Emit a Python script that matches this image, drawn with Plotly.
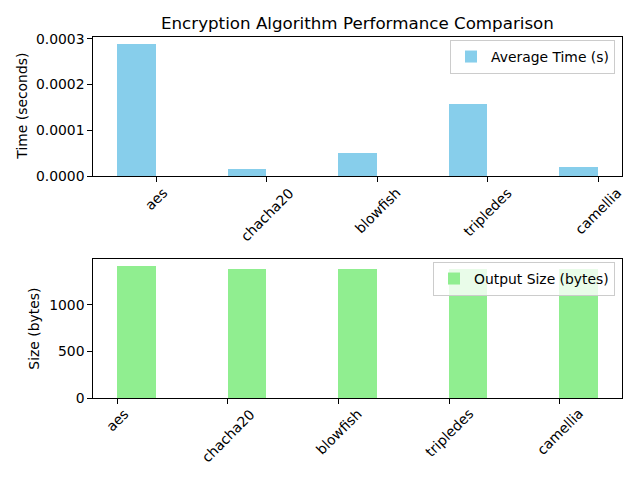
import plotly.graph_objects as go

algorithms = ["aes", "chacha20", "blowfish", "tripledes", "camellia"]
avg_time = [0.000289, 0.0000153, 0.0000504, 0.0001577, 0.0000197]
output_size = [1419, 1387, 1387, 1387, 1387]
time_ticks = [0, 0.0001, 0.0002, 0.0003]
size_ticks = [0, 500, 1000]

W, H = 640, 480
bar_w = 0.35
xpos = list(range(len(algorithms)))
span = len(algorithms) - 1 + bar_w
xr = [-bar_w / 2 - 0.05 * span, len(algorithms) - 1 + bar_w / 2 + 0.05 * span]

top_ticks = [i + bar_w / 2 for i in xpos]
bot_ticks = [i - bar_w / 2 for i in xpos]

xdom = [93.3 / W, 622.3 / W]
ydom1 = [1 - 176 / H, 1 - 37.3 / H]
ydom2 = [1 - 398 / H, 1 - 259.3 / H]

font = dict(family="DejaVu Sans", size=13.9, color="black")

fig = go.Figure()
fig.add_trace(go.Bar(x=xpos, y=avg_time, width=bar_w, marker=dict(color="skyblue", line=dict(width=0)),
                     name="Average Time (s)", xaxis="x", yaxis="y", legend="legend"))
fig.add_trace(go.Bar(x=xpos, y=output_size, width=bar_w, marker=dict(color="lightgreen", line=dict(width=0)),
                     name="Output Size (bytes)", xaxis="x2", yaxis="y2", legend="legend2"))

axis_common = dict(showline=True, mirror=True, linecolor="black", linewidth=1, ticks="outside",
                   ticklen=5, tickwidth=1, tickcolor="black", showgrid=False, zeroline=False,
                   tickfont=font, automargin=False)

legend_font = dict(family="DejaVu Sans", size=13.9, color="black")

fig.update_layout(
    template="none",
    width=W, height=H, margin=dict(l=0, r=0, t=0, b=0, pad=0, autoexpand=False),
    paper_bgcolor="white", plot_bgcolor="white", font=font, bargap=0,
    xaxis=dict(domain=xdom, anchor="y", range=xr, tickvals=top_ticks, showticklabels=False, **axis_common),
    yaxis=dict(domain=ydom1, anchor="x", range=[0, max(avg_time) * 1.05], tickvals=time_ticks,
               tickformat=".4f", **axis_common),
    xaxis2=dict(domain=xdom, anchor="y2", range=xr, tickvals=bot_ticks, showticklabels=False, **axis_common),
    yaxis2=dict(domain=ydom2, anchor="x2", range=[0, max(output_size) * 1.05], tickvals=size_ticks,
                **axis_common),
    legend=dict(x=615 / W, y=1 - 40 / H, xanchor="right", yanchor="top", xref="paper", yref="paper",
                bgcolor="rgba(255,255,255,0.8)", bordercolor="#cccccc", borderwidth=1,
                font=legend_font, itemwidth=30),
    legend2=dict(x=615 / W, y=1 - 262 / H, xanchor="right", yanchor="top", xref="paper", yref="paper",
                 bgcolor="rgba(255,255,255,0.8)", bordercolor="#cccccc", borderwidth=1,
                 font=legend_font, itemwidth=30),
    showlegend=True,
)

annotations = [
    dict(text="Encryption Algorithm Performance Comparison", x=357.8 / W, y=1 - 23 / H,
         xref="paper", yref="paper", showarrow=False, xanchor="center", yanchor="middle",
         font=dict(family="DejaVu Sans", size=16.7, color="black")),
    dict(text="Time (seconds)", x=22 / W, y=(ydom1[0] + ydom1[1]) / 2, xref="paper", yref="paper",
         showarrow=False, textangle=-90, xanchor="center", yanchor="middle", font=font),
    dict(text="Size (bytes)", x=34 / W, y=(ydom2[0] + ydom2[1]) / 2, xref="paper", yref="paper",
         showarrow=False, textangle=-90, xanchor="center", yanchor="middle", font=font),
]
for t, name in zip(top_ticks, algorithms):
    annotations.append(dict(text=name, x=t, y=1 - 182 / H, xref="x", yref="paper", showarrow=False,
                            textangle=-45, xanchor="center", yanchor="top", font=font))
for t, name in zip(bot_ticks, algorithms):
    annotations.append(dict(text=name, x=t, y=1 - 403 / H, xref="x2", yref="paper", showarrow=False,
                            textangle=-45, xanchor="center", yanchor="top", font=font))
fig.update_layout(annotations=annotations)

fig.write_html("out.html")
